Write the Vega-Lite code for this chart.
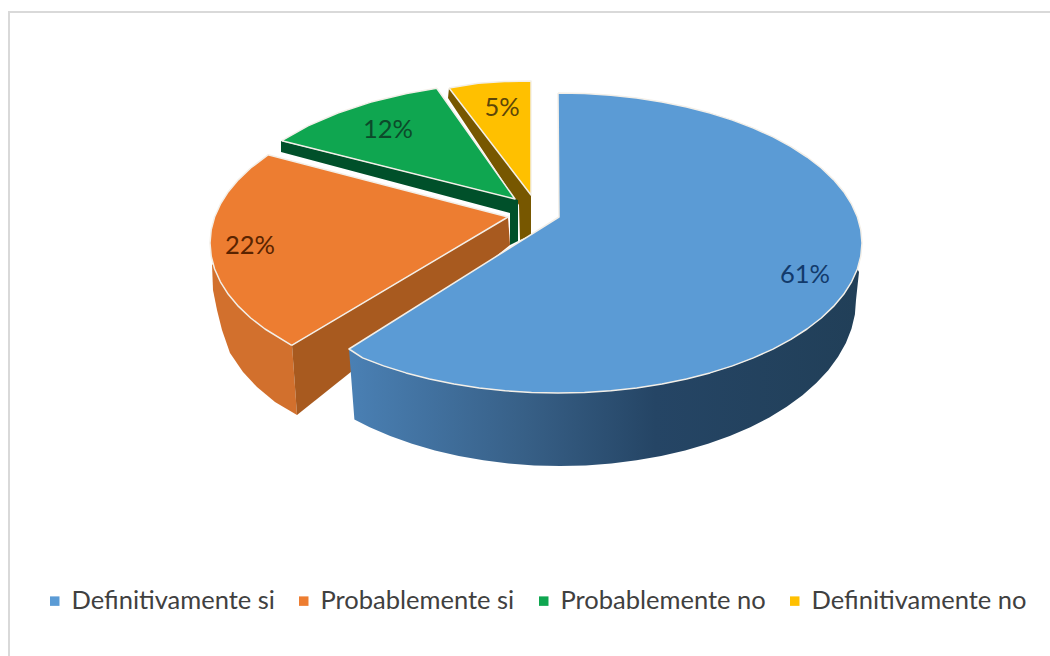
{
  "$schema": "https://vega.github.io/schema/vega-lite/v6.json",
  "autosize": {"type": "none"},
  "width": 1050,
  "height": 656,
  "padding": 0,
  "background": "white",
  "view": {"stroke": null},
  "datasets": {
    "respuestas": [
      {"respuesta": "Definitivamente si", "parte": 0.61, "ex": 805, "ey": 275},
      {"respuesta": "Probablemente si", "parte": 0.22, "ex": 250, "ey": 246},
      {"respuesta": "Probablemente no", "parte": 0.12, "ex": 388, "ey": 130},
      {"respuesta": "Definitivamente no", "parte": 0.05, "ex": 502, "ey": 108}
    ],
    "marco": [
      {"n": 0, "x": 9, "y": 656}, {"n": 1, "x": 9, "y": 12}, {"n": 2, "x": 1050, "y": 12}
    ],
    "piezas": [
      {"pieza": "Amarillo lateral", "cara": "lateral", "x": 449, "y": 88},
      {"pieza": "Amarillo lateral", "cara": "lateral", "x": 448, "y": 98},
      {"pieza": "Amarillo lateral", "cara": "lateral", "x": 519, "y": 205},
      {"pieza": "Amarillo lateral", "cara": "lateral", "x": 520, "y": 240},
      {"pieza": "Amarillo lateral", "cara": "lateral", "x": 531, "y": 235},
      {"pieza": "Amarillo lateral", "cara": "lateral", "x": 531, "y": 195},
      {"pieza": "Amarillo lateral", "cara": "lateral", "x": 449, "y": 88},

      {"pieza": "Definitivamente no", "cara": "superior", "x": 449, "y": 88},
      {"pieza": "Definitivamente no", "cara": "superior", "x": 478.2, "y": 83.3},
      {"pieza": "Definitivamente no", "cara": "superior", "x": 504.5, "y": 81.6},
      {"pieza": "Definitivamente no", "cara": "superior", "x": 531, "y": 81},
      {"pieza": "Definitivamente no", "cara": "superior", "x": 531, "y": 195},
      {"pieza": "Definitivamente no", "cara": "superior", "x": 449, "y": 88},

      {"pieza": "Verde lateral", "cara": "lateral", "x": 281, "y": 141},
      {"pieza": "Verde lateral", "cara": "lateral", "x": 281, "y": 152},
      {"pieza": "Verde lateral", "cara": "lateral", "x": 510, "y": 213},
      {"pieza": "Verde lateral", "cara": "lateral", "x": 510, "y": 245},
      {"pieza": "Verde lateral", "cara": "lateral", "x": 518, "y": 241},
      {"pieza": "Verde lateral", "cara": "lateral", "x": 518, "y": 200},
      {"pieza": "Verde lateral", "cara": "lateral", "x": 515, "y": 199},
      {"pieza": "Verde lateral", "cara": "lateral", "x": 281, "y": 141},

      {"pieza": "Probablemente no", "cara": "superior", "x": 281.8, "y": 140.7},
      {"pieza": "Probablemente no", "cara": "superior", "x": 308, "y": 125.9},
      {"pieza": "Probablemente no", "cara": "superior", "x": 337.9, "y": 113},
      {"pieza": "Probablemente no", "cara": "superior", "x": 371, "y": 102.1},
      {"pieza": "Probablemente no", "cara": "superior", "x": 406.7, "y": 93.4},
      {"pieza": "Probablemente no", "cara": "superior", "x": 436.7, "y": 88.2},
      {"pieza": "Probablemente no", "cara": "superior", "x": 515, "y": 199},
      {"pieza": "Probablemente no", "cara": "superior", "x": 281.8, "y": 140.7},

      {"pieza": "Naranja lateral", "cara": "lateral", "x": 212, "y": 264},
      {"pieza": "Naranja lateral", "cara": "lateral", "x": 213, "y": 290},
      {"pieza": "Naranja lateral", "cara": "lateral", "x": 217, "y": 310},
      {"pieza": "Naranja lateral", "cara": "lateral", "x": 222, "y": 330},
      {"pieza": "Naranja lateral", "cara": "lateral", "x": 230, "y": 353},
      {"pieza": "Naranja lateral", "cara": "lateral", "x": 243, "y": 372},
      {"pieza": "Naranja lateral", "cara": "lateral", "x": 257, "y": 387},
      {"pieza": "Naranja lateral", "cara": "lateral", "x": 275, "y": 402},
      {"pieza": "Naranja lateral", "cara": "lateral", "x": 297, "y": 415},
      {"pieza": "Naranja lateral", "cara": "lateral", "x": 292, "y": 345},
      {"pieza": "Naranja lateral", "cara": "lateral", "x": 212, "y": 264},

      {"pieza": "Naranja corte", "cara": "lateral", "x": 292, "y": 345},
      {"pieza": "Naranja corte", "cara": "lateral", "x": 508, "y": 217},
      {"pieza": "Naranja corte", "cara": "lateral", "x": 510, "y": 245},
      {"pieza": "Naranja corte", "cara": "lateral", "x": 297, "y": 415},
      {"pieza": "Naranja corte", "cara": "lateral", "x": 292, "y": 345},

      {"pieza": "Probablemente si", "cara": "superior", "x": 291.7, "y": 345.3},
      {"pieza": "Probablemente si", "cara": "superior", "x": 265, "y": 329},
      {"pieza": "Probablemente si", "cara": "superior", "x": 250.7, "y": 318},
      {"pieza": "Probablemente si", "cara": "superior", "x": 238.5, "y": 306.4},
      {"pieza": "Probablemente si", "cara": "superior", "x": 228.3, "y": 294.3},
      {"pieza": "Probablemente si", "cara": "superior", "x": 220.4, "y": 281.8},
      {"pieza": "Probablemente si", "cara": "superior", "x": 214.6, "y": 269},
      {"pieza": "Probablemente si", "cara": "superior", "x": 211.2, "y": 256.1},
      {"pieza": "Probablemente si", "cara": "superior", "x": 210, "y": 243},
      {"pieza": "Probablemente si", "cara": "superior", "x": 211.2, "y": 229.9},
      {"pieza": "Probablemente si", "cara": "superior", "x": 214.6, "y": 217},
      {"pieza": "Probablemente si", "cara": "superior", "x": 220.4, "y": 204.2},
      {"pieza": "Probablemente si", "cara": "superior", "x": 228.3, "y": 191.7},
      {"pieza": "Probablemente si", "cara": "superior", "x": 238.5, "y": 179.6},
      {"pieza": "Probablemente si", "cara": "superior", "x": 250.7, "y": 168},
      {"pieza": "Probablemente si", "cara": "superior", "x": 268, "y": 154.8},
      {"pieza": "Probablemente si", "cara": "superior", "x": 508, "y": 217},
      {"pieza": "Probablemente si", "cara": "superior", "x": 291.7, "y": 345.3}
    ],
    "lateralAzul": [
      {"x": 857.4, "y": 269}, {"x": 851.6, "y": 281.8}, {"x": 843.7, "y": 294.3}, {"x": 833.5, "y": 306.4},
      {"x": 821.3, "y": 318}, {"x": 807, "y": 329}, {"x": 790.9, "y": 339.4}, {"x": 773, "y": 349.1},
      {"x": 753.4, "y": 357.9}, {"x": 732.4, "y": 365.9}, {"x": 710, "y": 372.9}, {"x": 686.5, "y": 379},
      {"x": 662, "y": 384}, {"x": 636.7, "y": 387.9}, {"x": 610.8, "y": 390.7}, {"x": 584.5, "y": 392.4},
      {"x": 558, "y": 393}, {"x": 531.5, "y": 392.4}, {"x": 505.2, "y": 390.7}, {"x": 479.3, "y": 387.9},
      {"x": 454, "y": 384}, {"x": 429.5, "y": 379}, {"x": 406, "y": 372.9}, {"x": 383.6, "y": 365.9},
      {"x": 362.6, "y": 357.9}, {"x": 349, "y": 349},
      {"x": 354.4, "y": 419.4}, {"x": 369.7, "y": 427.2}, {"x": 390.2, "y": 436}, {"x": 412, "y": 443.8},
      {"x": 434.9, "y": 450.4}, {"x": 458.8, "y": 456}, {"x": 483.4, "y": 460.3}, {"x": 508.6, "y": 463.5},
      {"x": 534.2, "y": 465.4}, {"x": 560, "y": 466}, {"x": 585.8, "y": 465.4}, {"x": 611.4, "y": 463.5},
      {"x": 636.6, "y": 460.3}, {"x": 661.2, "y": 456}, {"x": 685.1, "y": 450.4}, {"x": 708, "y": 443.8},
      {"x": 729.8, "y": 436}, {"x": 750.3, "y": 427.2}, {"x": 769.3, "y": 417.4}, {"x": 786.7, "y": 406.7},
      {"x": 802.5, "y": 395.2}, {"x": 816.3, "y": 383}, {"x": 828.3, "y": 370.2}, {"x": 838.1, "y": 356.8},
      {"x": 845.9, "y": 343}, {"x": 851.5, "y": 328.8}, {"x": 854.9, "y": 314.5},
      {"x": 856, "y": 300}, {"x": 859, "y": 272}, {"x": 857.4, "y": 269}
    ],
    "superiorAzul": [
      {"pieza": "Definitivamente si", "cara": "superior", "x": 558, "y": 93},
      {"pieza": "Definitivamente si", "cara": "superior", "x": 584.5, "y": 93.6},
      {"pieza": "Definitivamente si", "cara": "superior", "x": 610.8, "y": 95.3},
      {"pieza": "Definitivamente si", "cara": "superior", "x": 636.7, "y": 98.1},
      {"pieza": "Definitivamente si", "cara": "superior", "x": 662, "y": 102},
      {"pieza": "Definitivamente si", "cara": "superior", "x": 686.5, "y": 107},
      {"pieza": "Definitivamente si", "cara": "superior", "x": 710, "y": 113.1},
      {"pieza": "Definitivamente si", "cara": "superior", "x": 732.4, "y": 120.1},
      {"pieza": "Definitivamente si", "cara": "superior", "x": 753.4, "y": 128.1},
      {"pieza": "Definitivamente si", "cara": "superior", "x": 773, "y": 136.9},
      {"pieza": "Definitivamente si", "cara": "superior", "x": 790.9, "y": 146.6},
      {"pieza": "Definitivamente si", "cara": "superior", "x": 807, "y": 157},
      {"pieza": "Definitivamente si", "cara": "superior", "x": 821.3, "y": 168},
      {"pieza": "Definitivamente si", "cara": "superior", "x": 833.5, "y": 179.6},
      {"pieza": "Definitivamente si", "cara": "superior", "x": 843.7, "y": 191.7},
      {"pieza": "Definitivamente si", "cara": "superior", "x": 851.6, "y": 204.2},
      {"pieza": "Definitivamente si", "cara": "superior", "x": 857.4, "y": 217},
      {"pieza": "Definitivamente si", "cara": "superior", "x": 860.8, "y": 229.9},
      {"pieza": "Definitivamente si", "cara": "superior", "x": 862, "y": 243},
      {"pieza": "Definitivamente si", "cara": "superior", "x": 860.8, "y": 256.1},
      {"pieza": "Definitivamente si", "cara": "superior", "x": 857.4, "y": 269},
      {"pieza": "Definitivamente si", "cara": "superior", "x": 851.6, "y": 281.8},
      {"pieza": "Definitivamente si", "cara": "superior", "x": 843.7, "y": 294.3},
      {"pieza": "Definitivamente si", "cara": "superior", "x": 833.5, "y": 306.4},
      {"pieza": "Definitivamente si", "cara": "superior", "x": 821.3, "y": 318},
      {"pieza": "Definitivamente si", "cara": "superior", "x": 807, "y": 329},
      {"pieza": "Definitivamente si", "cara": "superior", "x": 790.9, "y": 339.4},
      {"pieza": "Definitivamente si", "cara": "superior", "x": 773, "y": 349.1},
      {"pieza": "Definitivamente si", "cara": "superior", "x": 753.4, "y": 357.9},
      {"pieza": "Definitivamente si", "cara": "superior", "x": 732.4, "y": 365.9},
      {"pieza": "Definitivamente si", "cara": "superior", "x": 710, "y": 372.9},
      {"pieza": "Definitivamente si", "cara": "superior", "x": 686.5, "y": 379},
      {"pieza": "Definitivamente si", "cara": "superior", "x": 662, "y": 384},
      {"pieza": "Definitivamente si", "cara": "superior", "x": 636.7, "y": 387.9},
      {"pieza": "Definitivamente si", "cara": "superior", "x": 610.8, "y": 390.7},
      {"pieza": "Definitivamente si", "cara": "superior", "x": 584.5, "y": 392.4},
      {"pieza": "Definitivamente si", "cara": "superior", "x": 558, "y": 393},
      {"pieza": "Definitivamente si", "cara": "superior", "x": 531.5, "y": 392.4},
      {"pieza": "Definitivamente si", "cara": "superior", "x": 505.2, "y": 390.7},
      {"pieza": "Definitivamente si", "cara": "superior", "x": 479.3, "y": 387.9},
      {"pieza": "Definitivamente si", "cara": "superior", "x": 454, "y": 384},
      {"pieza": "Definitivamente si", "cara": "superior", "x": 429.5, "y": 379},
      {"pieza": "Definitivamente si", "cara": "superior", "x": 406, "y": 372.9},
      {"pieza": "Definitivamente si", "cara": "superior", "x": 383.6, "y": 365.9},
      {"pieza": "Definitivamente si", "cara": "superior", "x": 362.6, "y": 357.9},
      {"pieza": "Definitivamente si", "cara": "superior", "x": 349, "y": 349},
      {"pieza": "Definitivamente si", "cara": "superior", "x": 559, "y": 217},
      {"pieza": "Definitivamente si", "cara": "superior", "x": 558, "y": 93}
    ]
  },
  "encoding": {
    "x": {"field": "x", "type": "quantitative", "axis": null, "scale": {"domain": [0, 1050], "nice": false, "zero": false}},
    "y": {"field": "y", "type": "quantitative", "axis": null, "scale": {"domain": [656, 0], "nice": false, "zero": false}}
  },
  "layer": [
    {
      "data": {"name": "marco"},
      "mark": {"type": "line", "stroke": "#d9d9d9", "strokeWidth": 2},
      "encoding": {"order": {"field": "n"}}
    },
    {
      "data": {"name": "piezas"},
      "mark": {"type": "line", "strokeWidth": 1.5, "strokeJoin": "round"},
      "encoding": {
        "order": {"value": null},
        "detail": {"field": "pieza"},
        "fill": {
          "field": "pieza",
          "type": "nominal",
          "scale": {
            "domain": ["Definitivamente si", "Probablemente si", "Probablemente no", "Definitivamente no", "Amarillo lateral", "Verde lateral", "Naranja lateral", "Naranja corte"],
            "range": ["#5b9bd5", "#ed7d31", "#0fa650", "#ffc000", "#775700", "#00502a", "#d2702d", "#a85a1f"]
          },
          "legend": {
            "values": ["Definitivamente si", "Probablemente si", "Probablemente no", "Definitivamente no"],
            "title": null,
            "orient": "none",
            "legendX": 42,
            "legendY": 588,
            "direction": "horizontal",
            "columns": 4,
            "gridAlign": "each",
            "columnPadding": 16,
            "symbolType": "square",
            "symbolSize": 90,
            "symbolStrokeWidth": 0,
            "labelFont": "Lato",
            "labelFontSize": 25.5,
            "labelColor": "#404040",
            "labelOffset": 4,
            "labelLimit": 300
          }
        },
        "stroke": {
          "field": "cara",
          "type": "nominal",
          "scale": {"domain": ["superior", "lateral"], "range": ["#f3efe8", "transparent"]},
          "legend": null
        }
      }
    },
    {
      "data": {"name": "lateralAzul"},
      "mark": {
        "type": "line",
        "strokeWidth": 0,
        "fill": {
          "gradient": "linear",
          "x1": 0, "y1": 0, "x2": 1, "y2": 0,
          "stops": [
            {"offset": 0, "color": "#4a80b4"},
            {"offset": 0.35, "color": "#375f86"},
            {"offset": 0.6, "color": "#254565"},
            {"offset": 1, "color": "#213f58"}
          ]
        }
      },
      "encoding": {"order": {"value": null}}
    },
    {
      "data": {"name": "superiorAzul"},
      "mark": {"type": "line", "strokeWidth": 1.5, "strokeJoin": "round"},
      "encoding": {
        "order": {"value": null},
        "fill": {"field": "pieza", "type": "nominal"},
        "stroke": {"field": "cara", "type": "nominal"}
      }
    },
    {
      "data": {"name": "respuestas"},
      "mark": {"type": "text", "font": "Lato", "fontSize": 25.5, "align": "center", "baseline": "middle"},
      "encoding": {
        "x": {"field": "ex", "type": "quantitative"},
        "y": {"field": "ey", "type": "quantitative"},
        "text": {"field": "parte", "type": "quantitative", "format": ".0%"},
        "color": {
          "field": "respuesta",
          "type": "nominal",
          "scale": {
            "domain": ["Definitivamente si", "Probablemente si", "Probablemente no", "Definitivamente no"],
            "range": ["#123a6b", "#5a2400", "#0c4a2a", "#5c4608"]
          },
          "legend": null
        }
      }
    }
  ]
}
